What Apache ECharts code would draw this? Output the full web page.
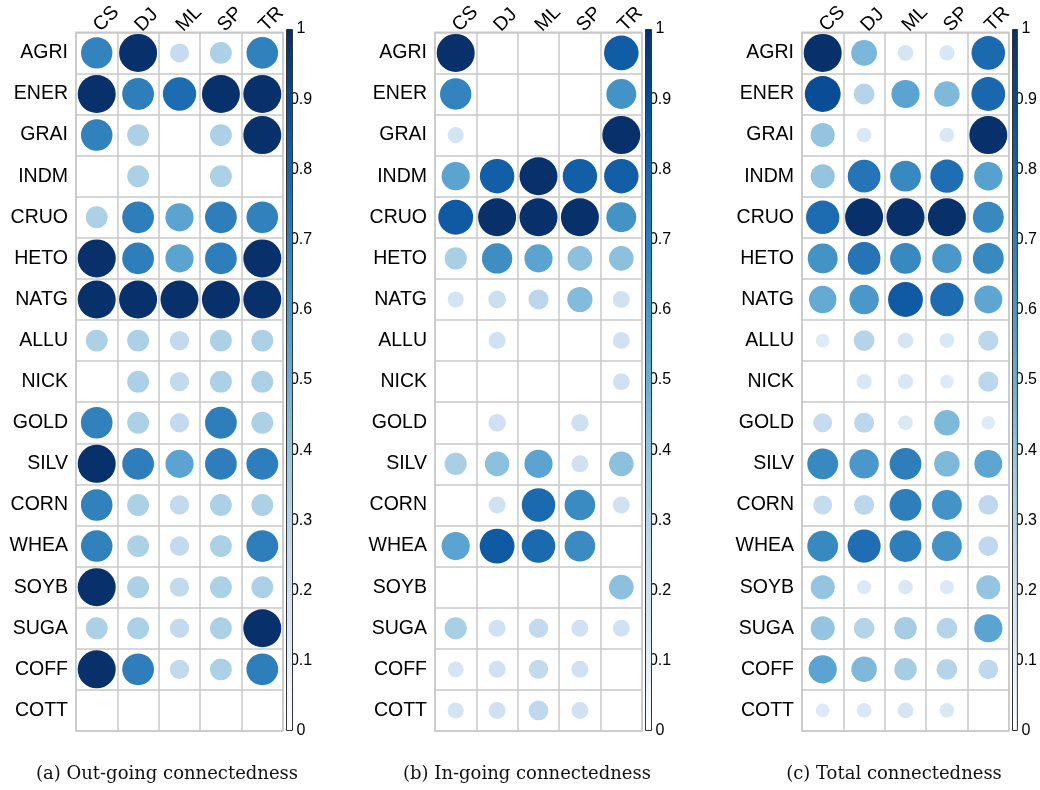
<!DOCTYPE html>
<html>
<head>
<meta charset="utf-8">
<script src="https://cdn.jsdelivr.net/npm/echarts@6/dist/echarts.min.js"></script>
<style>html,body{margin:0;padding:0;background:#fff}#chart{width:1040px;height:790px}</style>
</head>
<body>
<div id="chart"></div>
<script>
const rows = ['AGRI','ENER','GRAI','INDM','CRUO','HETO','NATG','ALLU','NICK','GOLD','SILV','CORN','WHEA','SOYB','SUGA','COFF','COTT'];
const cols = ['CS','DJ','ML','SP','TR'];

const outgoing = [
  [0.68, 1.00, 0.25, 0.33, 0.69],
  [1.00, 0.70, 0.77, 1.00, 1.00],
  [0.69, 0.33, 0.00, 0.33, 1.00],
  [0.00, 0.33, 0.00, 0.33, 0.00],
  [0.33, 0.70, 0.55, 0.70, 0.69],
  [1.00, 0.70, 0.55, 0.70, 1.00],
  [1.00, 1.00, 1.00, 1.00, 1.00],
  [0.33, 0.33, 0.26, 0.33, 0.33],
  [0.00, 0.33, 0.26, 0.33, 0.33],
  [0.69, 0.33, 0.26, 0.70, 0.33],
  [1.00, 0.70, 0.55, 0.70, 0.70],
  [0.69, 0.33, 0.26, 0.33, 0.33],
  [0.69, 0.33, 0.26, 0.33, 0.70],
  [1.00, 0.33, 0.26, 0.33, 0.33],
  [0.33, 0.33, 0.26, 0.33, 1.00],
  [1.00, 0.70, 0.26, 0.33, 0.70],
  [0.00, 0.00, 0.00, 0.00, 0.00]
];

const ingoing = [
  [1.00, 0.00, 0.00, 0.00, 0.83],
  [0.68, 0.00, 0.00, 0.00, 0.62],
  [0.18, 0.00, 0.00, 0.00, 1.00],
  [0.55, 0.82, 1.00, 0.82, 0.82],
  [0.84, 1.00, 1.00, 1.00, 0.62],
  [0.34, 0.64, 0.55, 0.42, 0.42],
  [0.18, 0.22, 0.28, 0.44, 0.20],
  [0.00, 0.20, 0.00, 0.00, 0.20],
  [0.00, 0.00, 0.00, 0.00, 0.20],
  [0.00, 0.21, 0.00, 0.21, 0.00],
  [0.34, 0.42, 0.55, 0.20, 0.42],
  [0.00, 0.20, 0.78, 0.65, 0.20],
  [0.55, 0.84, 0.78, 0.65, 0.00],
  [0.00, 0.00, 0.00, 0.00, 0.42],
  [0.34, 0.20, 0.26, 0.20, 0.20],
  [0.17, 0.20, 0.26, 0.20, 0.00],
  [0.18, 0.20, 0.27, 0.20, 0.00]
];

const total = [
  [1.00, 0.46, 0.17, 0.16, 0.78],
  [0.89, 0.30, 0.55, 0.45, 0.79],
  [0.40, 0.15, 0.00, 0.15, 1.00],
  [0.40, 0.74, 0.66, 0.76, 0.56],
  [0.77, 1.00, 1.00, 1.00, 0.66],
  [0.62, 0.74, 0.66, 0.60, 0.66],
  [0.52, 0.60, 0.84, 0.77, 0.54],
  [0.13, 0.30, 0.17, 0.15, 0.28],
  [0.00, 0.16, 0.16, 0.13, 0.28],
  [0.25, 0.28, 0.15, 0.45, 0.13],
  [0.66, 0.60, 0.70, 0.45, 0.54],
  [0.25, 0.28, 0.70, 0.62, 0.27],
  [0.66, 0.76, 0.70, 0.62, 0.27],
  [0.40, 0.14, 0.15, 0.14, 0.40],
  [0.40, 0.30, 0.35, 0.30, 0.55],
  [0.55, 0.45, 0.35, 0.30, 0.27],
  [0.13, 0.15, 0.17, 0.15, 0.00]
];

const captions = ['(a) Out-going connectedness', '(b) In-going connectedness', '(c) Total connectedness'];
const colorbarMin = 0, colorbarMax = 1, colorbarStep = 0.1;

// styling / layout (not data)
const palette = ['#FFFFFF','#DEEBF7','#C6DBEF','#9ECAE1','#6BAED6','#4292C6','#2171B5','#08519C','#08306B'];
const panels = [
  {left: 76, cb: 286, cap: 167},
  {left: 435, cb: 645, cap: 527},
  {left: 802, cb: 1012, cap: 894}
];
const gridTop = 29, gridW = 207, gridH = 702, cbW = 7;
const maxD = 38;
const lineColor = '#c8c8c8';
const sansFont = 'Liberation Sans, Arial, sans-serif';

const matrices = [outgoing, ingoing, total];

const grids = [], xAxes = [], yAxes = [], series = [], graphics = [];

panels.forEach((p, i) => {
  grids.push({left: p.left, top: gridTop, width: gridW, height: gridH, show: true, borderColor: lineColor, borderWidth: 1.5, backgroundColor: '#fff'});
  xAxes.push({
    type: 'category', data: cols, gridIndex: i, position: 'top',
    axisLine: {show: false}, axisTick: {show: false},
    splitLine: {show: true, interval: 0, lineStyle: {color: lineColor, width: 1.5}},
    axisLabel: {rotate: -45, fontSize: 19.5, color: '#000', fontFamily: sansFont, margin: 4, interval: 0}
  });
  yAxes.push({
    type: 'category', data: rows, gridIndex: i, inverse: true,
    axisLine: {show: false}, axisTick: {show: false},
    splitLine: {show: true, interval: 0, lineStyle: {color: lineColor, width: 1.5}},
    axisLabel: {fontSize: 19.5, color: '#000', fontFamily: sansFont, margin: 8, interval: 0}
  });
  const data = [];
  matrices[i].forEach((row, r) => row.forEach((v, c) => data.push([c, r, v])));
  series.push({
    type: 'scatter', xAxisIndex: i, yAxisIndex: i, data: data,
    symbol: 'circle',
    symbolSize: d => maxD * Math.sqrt(Math.max(0, d[2])),
    itemStyle: {opacity: 1},
    silent: true, z: 3
  });
  graphics.push({
    type: 'text', x: p.cap, y: 774,
    style: {text: captions[i], textAlign: 'center', textVerticalAlign: 'middle', font: '18px "DejaVu Serif", serif', fill: '#111'}
  });
});

// colorbars
panels.forEach((p, i) => {
  const gi = grids.length;
  grids.push({left: p.cb, top: gridTop, width: cbW, height: gridH});
  xAxes.push({type: 'category', data: [''], gridIndex: gi, show: false});
  yAxes.push({
    type: 'value', gridIndex: gi, min: colorbarMin, max: colorbarMax, interval: colorbarStep, position: 'right',
    axisLine: {show: false}, axisTick: {show: false}, splitLine: {show: false},
    axisLabel: {margin: 8, align: 'center', fontSize: 16, color: '#000', fontFamily: sansFont,
      formatter: v => (Math.abs(v) < 1e-9 ? '0' : Math.abs(v - 1) < 1e-9 ? '1' : v.toFixed(1))}
  });
  series.push({
    type: 'bar', xAxisIndex: gi, yAxisIndex: gi, data: [colorbarMax], barWidth: '100%', silent: true,
    itemStyle: {
      borderColor: '#333', borderWidth: 1,
      color: {type: 'linear', x: 0, y: 1, x2: 0, y2: 0,
        colorStops: palette.map((c, k) => ({offset: k / (palette.length - 1), color: c}))}
    }
  });
});

const chart = echarts.init(document.getElementById('chart'), null, {renderer: 'canvas'});
chart.setOption({
  animation: false,
  backgroundColor: '#fff',
  grid: grids, xAxis: xAxes, yAxis: yAxes,
  visualMap: {
    type: 'continuous', show: false, min: colorbarMin, max: colorbarMax, dimension: 2,
    seriesIndex: [0, 1, 2], inRange: {color: palette}
  },
  series: series,
  graphic: graphics
});
</script>
</body>
</html>
